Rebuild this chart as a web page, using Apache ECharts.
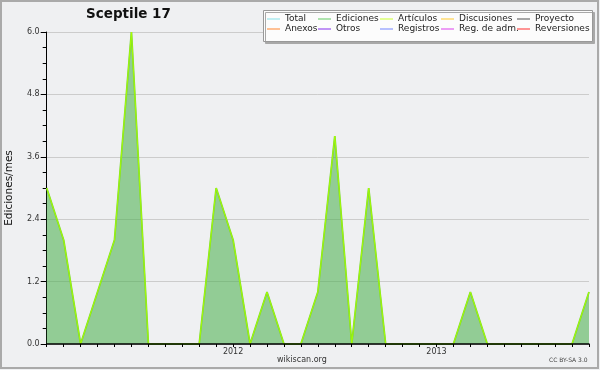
<!DOCTYPE html>
<html>
<head>
<meta charset="utf-8">
<script src="https://cdn.jsdelivr.net/npm/echarts@6/dist/echarts.min.js"></script>
<style>html,body{margin:0;padding:0;background:#eff0f2;}#c{width:600px;height:370px;}</style>
</head>
<body>
<div id="c"></div>
<script>
const months = ['2011-02','2011-03','2011-04','2011-05','2011-06','2011-07','2011-08','2011-09','2011-10','2011-11','2011-12',
  '2012-01','2012-02','2012-03','2012-04','2012-05','2012-06','2012-07','2012-08','2012-09','2012-10','2012-11','2012-12',
  '2013-01','2013-02','2013-03','2013-04','2013-05','2013-06','2013-07','2013-08','2013-09','2013-10'];
const ediciones = [3,2,0,1,2,6,0,0,0,0,3,2,0,1,0,0,1,4,0,3,0,0,0,0,0,1,0,0,0,0,0,0,1];
const articulos = [3,2,0,1,2,6,0,0,0,0,3,2,0,1,0,0,1,4,0,3,0,0,0,0,0,1,0,0,0,0,0,0,1];
const yTicks = [0, 1.2, 2.4, 3.6, 4.8, 6.0];
const legendNames = [['Total','Anexos'],['Ediciones','Otros'],['Artículos','Registros'],['Discusiones','Reg. de adm.'],['Proyecto','Reversiones']];
const legendColors = {'Total':'#88e0e8','Anexos':'#ff8833','Ediciones':'#66cc66','Otros':'#8833ee','Artículos':'#ccff33','Registros':'#7788ff','Discusiones':'#ffcc33','Reg. de adm.':'#dd44ee','Proyecto':'#555555','Reversiones':'#ff3333'};

const font = 'DejaVu Sans';
const chart = echarts.init(document.getElementById('c'));
const legendLeft = [267, 318, 380, 441, 517];

const series = [];
Object.keys(legendColors).forEach(function(name){
  const s = {name: name, type: 'line', symbol: 'none', showSymbol: false, data: [],
    lineStyle: {color: legendColors[name], width: 1.5}, itemStyle: {color: legendColors[name]}, z: 2};
  if (name === 'Ediciones') {
    s.data = ediciones;
    s.lineStyle = {color: '#77d633', width: 1.8};
    s.areaStyle = {color: 'rgba(76,175,80,0.57)', opacity: 1};
    s.z = 3;
  }
  if (name === 'Artículos') {
    s.data = articulos;
    s.lineStyle = {color: '#aaff00', width: 0.9};
    s.z = 4;
  }
  series.push(s);
});

chart.setOption({
  animation: false,
  backgroundColor: '#eff0f2',
  textStyle: {fontFamily: font},
  title: {text: 'Sceptile 17', left: 86, top: 7, padding: 0, textStyle: {fontFamily: font, fontSize: 13.5, fontWeight: 'bold', color: '#111'}},
  legend: legendNames.map(function(col, i){
    return {data: col.map(function(n){ return {name: n, icon: 'path://M0,0H20V1.6H0Z'}; }),
      orient: 'vertical', left: legendLeft[i], top: 14, itemWidth: 13, itemHeight: 10, itemGap: 0,
      selectedMode: false, padding: 0, symbolKeepAspect: true,
      itemStyle: {borderWidth: 0},
      textStyle: {fontFamily: font, fontSize: 9, lineHeight: 10, color: '#222'}};
  }),
  grid: {left: 46.7, right: 11, top: 32, bottom: 26, containLabel: false, outerBoundsMode: 'none'},
  xAxis: {
    type: 'category', data: months, boundaryGap: false, z: 10,
    axisLine: {lineStyle: {color: '#000', width: 1.5}},
    axisTick: {show: true, interval: 0, length: 3, lineStyle: {color: '#000'}},
    axisLabel: {interval: function(i){ return i === 11 || i === 23; }, formatter: function(v){ return v.slice(0,4); },
      fontSize: 8, color: '#333', margin: 4, fontFamily: font},
    splitLine: {show: false}
  },
  yAxis: {
    type: 'value', min: 0, max: 6, interval: 1.2,
    name: 'Ediciones/mes', nameLocation: 'middle', nameGap: 32,
    nameTextStyle: {fontFamily: font, fontSize: 10.5, color: '#111'},
    axisLine: {show: true, lineStyle: {color: '#000', width: 1}},
    axisTick: {show: true, length: 6, lineStyle: {color: '#000'}},
    minorTick: {show: true, splitNumber: 4, length: 4, lineStyle: {color: '#000'}},
    axisLabel: {formatter: function(v){ return yTicks.indexOf(+v.toFixed(1)) >= 0 ? v.toFixed(1) : ''; },
      fontSize: 8, color: '#333', margin: 7, fontFamily: font},
    splitLine: {show: true, lineStyle: {color: '#cccccc', width: 1}}
  },
  graphic: [
    {type: 'rect', z: 0, silent: true, shape: {x: 1, y: 1, width: 597, height: 367},
      style: {fill: 'none', stroke: '#aaaaaa', lineWidth: 2}},
    {type: 'rect', z: 1, silent: true, shape: {x: 263.5, y: 10.5, width: 329, height: 31},
      style: {fill: '#fcfcfc', stroke: '#999999', lineWidth: 1, shadowColor: '#a8a8a8', shadowOffsetX: 2, shadowOffsetY: 2, shadowBlur: 0}},
    {type: 'text', z: 5, left: 277, top: 356, style: {text: 'wikiscan.org', fontFamily: font, fontSize: 8, fill: '#333'}},
    {type: 'text', z: 5, left: 549, top: 357, style: {text: 'CC BY-SA 3.0', fontFamily: font, fontSize: 6, fill: '#444'}}
  ],
  series: series
});
</script>
</body>
</html>
